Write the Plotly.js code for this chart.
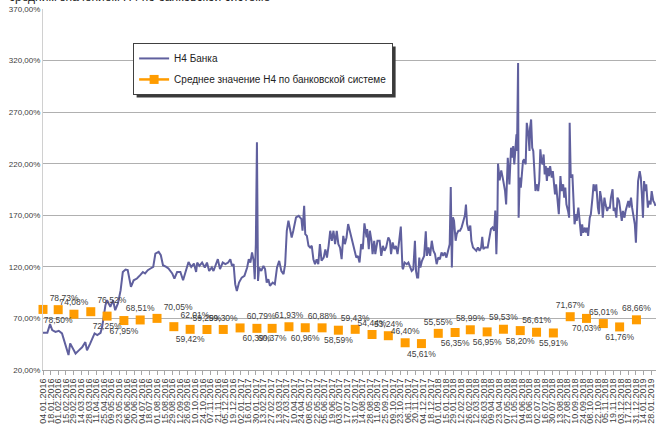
<!DOCTYPE html>
<html>
<head>
<meta charset="utf-8">
<script src="https://cdn.plot.ly/plotly-3.0.1.min.js"></script>
<style>html,body{margin:0;padding:0;background:#fff;}#chart{width:668px;height:427px;}</style>
</head>
<body>
<div id="chart"></div>
<script>
// ---- Data ----
const bankName = 'Н4 Банка';
const avgName = 'Среднее значение Н4 по банковской системе';
const titleText = 'средним значением Н4 по банковской системе';

const bankDates = [
'2016-01-04','2016-01-12','2016-01-17','2016-01-21','2016-01-27','2016-02-02','2016-02-08','2016-02-14','2016-02-20','2016-02-23',
'2016-02-28','2016-03-04','2016-03-10','2016-03-16','2016-03-22','2016-03-25','2016-03-31','2016-04-04','2016-04-08','2016-04-13',
'2016-04-19','2016-04-22','2016-04-28','2016-05-01','2016-05-07','2016-05-12','2016-05-16','2016-05-21','2016-05-26','2016-05-30',
'2016-06-04','2016-06-08','2016-06-12','2016-06-14','2016-06-19','2016-06-25','2016-07-01','2016-07-06','2016-07-10','2016-07-15',
'2016-07-20','2016-07-25','2016-07-29','2016-08-04','2016-08-08','2016-08-12','2016-08-18','2016-08-22','2016-08-29','2016-09-02',
'2016-09-07','2016-09-13','2016-09-18','2016-09-22','2016-09-28','2016-10-03','2016-10-08','2016-10-12','2016-10-14','2016-10-18',
'2016-10-23','2016-10-28','2016-11-01','2016-11-05','2016-11-10','2016-11-13','2016-11-17','2016-11-21','2016-11-25','2016-11-30',
'2016-12-05','2016-12-10','2016-12-14','2016-12-17','2016-12-20','2016-12-23','2016-12-26','2016-12-30','2017-01-04','2017-01-09',
'2017-01-14','2017-01-17','2017-01-20','2017-01-23','2017-01-26','2017-01-28','2017-01-30','2017-02-01','2017-02-03','2017-02-05',
'2017-02-09','2017-02-13','2017-02-16','2017-02-19','2017-02-22','2017-02-25','2017-03-02','2017-03-06','2017-03-10','2017-03-14',
'2017-03-18','2017-03-22','2017-03-25','2017-03-28','2017-03-31','2017-04-03','2017-04-06','2017-04-09','2017-04-14','2017-04-19',
'2017-04-24','2017-04-26','2017-04-29','2017-05-01','2017-05-04','2017-05-07','2017-05-10','2017-05-13','2017-05-16','2017-05-19',
'2017-05-22','2017-05-25','2017-05-28','2017-05-31','2017-06-04','2017-06-07','2017-06-10','2017-06-13','2017-06-16','2017-06-19',
'2017-06-22','2017-06-25','2017-06-28','2017-07-01','2017-07-04','2017-07-07','2017-07-10','2017-07-13','2017-07-16','2017-07-19',
'2017-07-22','2017-07-25','2017-07-28','2017-07-31','2017-08-03','2017-08-06','2017-08-09','2017-08-12','2017-08-15','2017-08-18',
'2017-08-22','2017-08-23','2017-08-26','2017-08-28','2017-08-31','2017-09-02','2017-09-05','2017-09-07','2017-09-11','2017-09-15',
'2017-09-18','2017-09-21','2017-09-24','2017-09-27','2017-10-01','2017-10-04','2017-10-06','2017-10-09','2017-10-12','2017-10-15',
'2017-10-18','2017-10-21','2017-10-24','2017-10-27','2017-10-28','2017-10-31','2017-11-04','2017-11-07','2017-11-10','2017-11-13',
'2017-11-16','2017-11-19','2017-11-21','2017-11-23','2017-11-25','2017-11-27','2017-11-29','2017-12-02','2017-12-06','2017-12-09',
'2017-12-11','2017-12-14','2017-12-17','2017-12-20','2017-12-23','2017-12-26','2017-12-29','2018-01-01','2018-01-04','2018-01-07',
'2018-01-10','2018-01-13','2018-01-16','2018-01-19','2018-01-22','2018-01-24','2018-01-26','2018-01-28','2018-01-30','2018-02-02',
'2018-02-04','2018-02-07','2018-02-10','2018-02-13','2018-02-16','2018-02-19','2018-02-21','2018-02-23','2018-02-26','2018-03-01',
'2018-03-03','2018-03-06','2018-03-09','2018-03-12','2018-03-15','2018-03-18','2018-03-21','2018-03-23','2018-03-25','2018-03-28',
'2018-04-02','2018-04-04','2018-04-08','2018-04-11','2018-04-14','2018-04-16','2018-04-18','2018-04-20','2018-04-21','2018-04-24',
'2018-04-27','2018-04-30','2018-05-04','2018-05-06','2018-05-09','2018-05-12','2018-05-15','2018-05-17','2018-05-19','2018-05-21',
'2018-05-23','2018-05-25','2018-05-26','2018-05-28','2018-05-29','2018-05-31','2018-06-02','2018-06-04','2018-06-06','2018-06-08',
'2018-06-11','2018-06-13','2018-06-16','2018-06-18','2018-06-19','2018-06-21','2018-06-23','2018-06-25','2018-06-27','2018-06-29',
'2018-07-02','2018-07-04','2018-07-06','2018-07-08','2018-07-10','2018-07-12','2018-07-14','2018-07-16','2018-07-18','2018-07-20',
'2018-07-22','2018-07-24','2018-07-26','2018-07-29','2018-07-31','2018-08-03','2018-08-04','2018-08-06','2018-08-09','2018-08-11',
'2018-08-14','2018-08-16','2018-08-19','2018-08-21','2018-08-23','2018-08-25','2018-08-28','2018-08-30','2018-08-31','2018-09-02',
'2018-09-05','2018-09-07','2018-09-09','2018-09-12','2018-09-13','2018-09-16','2018-09-18','2018-09-21','2018-09-23','2018-09-25',
'2018-09-28','2018-09-30','2018-10-02','2018-10-04','2018-10-07','2018-10-09','2018-10-12','2018-10-14','2018-10-17','2018-10-19',
'2018-10-22','2018-10-24','2018-10-26','2018-10-29','2018-10-31','2018-11-03','2018-11-05','2018-11-08','2018-11-10','2018-11-13',
'2018-11-15','2018-11-18','2018-11-20','2018-11-22','2018-11-25','2018-11-27','2018-11-30','2018-12-02','2018-12-05','2018-12-07',
'2018-12-10','2018-12-12','2018-12-15','2018-12-17','2018-12-19','2018-12-22','2018-12-24','2018-12-27','2018-12-29','2018-12-31',
'2019-01-02','2019-01-04','2019-01-07','2019-01-09','2019-01-11','2019-01-13','2019-01-15','2019-01-17','2019-01-19','2019-01-22',
'2019-01-24','2019-01-27','2019-01-29','2019-02-01','2019-02-03','2019-02-05'
];
const bankValues = [
56,56,64.5,58.7,57,58,55.5,45.8,34.5,45.8,
41,36,39,42,47,39,45.8,50.6,55.5,53.8,
56,61.9,82.9,87.7,81.2,87.7,78,84.5,97.4,115,
117.4,116.8,107,100.6,107,108.7,112,115,113.6,116.8,
118.4,120,132.9,134.5,131.3,121.6,120,118.4,113.6,108.7,
115,115,107,113.6,124.8,120,123.2,115,124.2,121,
124.2,119.4,124.2,116,119.4,116,122.6,127.4,117.8,124.2,
122.6,124.2,127.4,121,122.6,103.2,96.7,104.8,109.6,111.3,
119.4,127.4,124.2,134,125.8,108,142,240.7,106.4,119.4,
116,121,117.8,104.8,108,101.6,104.8,103.2,119.4,125.8,
116,112.9,122.6,155,164.7,155,148.5,155,167.9,169.5,
166.3,155,179.2,151.7,150,140.4,138.8,140.4,127.4,122.6,
127.4,122.6,142,126,129,137,129,140.4,155,145.3,
155,142,155,142,138.8,127.4,150,142,148.5,161.5,
155,148.6,142,135.6,129,130.6,124.2,142,137.2,162.2,
148.6,156.7,137.2,155,145.3,132.3,145.3,132.3,145.3,145.3,
130.6,140.4,135.6,138.8,148.6,145.3,132.3,143.7,137.2,140.4,
132.3,145.3,159,119.4,117.7,124.2,122.6,124.2,120.9,116,
117.7,145.3,116,109.6,109.6,129,119.4,125.8,130.6,154.4,
130.6,138.8,130.6,145.3,135.6,132.3,122.6,129,127.4,133.9,
130.6,133.9,129,137.2,142,197.3,119.4,168,164.8,145.3,
151.8,155,155,158.3,164.8,169.7,180.4,161.6,155,160,
145.3,138.8,137.2,135.6,138.8,135.6,138.8,149.2,137.2,138.8,
138.8,145.3,156.7,158.3,155,174.5,132.3,171.3,220,203.8,
213.5,205.5,193.5,180.6,225.8,200,235.5,225.8,237,219.4,
232.3,248.4,232.3,317.7,167.7,206.5,196.8,212.9,222.6,224.2,
219.4,259.7,248.4,232.3,254.8,262.9,235.5,232.3,216,193.5,
200,193.5,203.2,233.9,222.6,219.4,229,209.7,217.7,203.2,
216,208,217.7,206.5,212.9,196.8,190.3,200,180.6,171,
208,193.5,200,187.1,196.8,180.6,174.2,167.7,259.7,206.5,
209.7,174.2,161.3,171,164.5,177.4,164.5,150,161.3,153.2,
158,153.2,158,150,167.7,171,187.1,200,193.5,200,
177.4,171,193.5,183.9,167.7,187.1,180.6,174.2,177.4,177.4,
187.1,195.2,174.2,177.4,167.7,187.1,183.9,177.4,164.5,174.2,
167.7,174.2,180.6,183.9,177.4,187.1,177.4,164.5,161.3,143.5,
180.6,203.2,212.9,206.5,190.3,167.7,203.2,193.5,200,177.4,
183.9,180.6,193.5,183.9,182.3,179
];

const avgDates = [
'2016-01-04','2016-02-01','2016-03-01','2016-04-01','2016-05-01','2016-06-01','2016-07-01','2016-08-01','2016-09-01','2016-10-01',
'2016-11-01','2016-12-01','2017-01-01','2017-02-01','2017-03-01','2017-04-01','2017-05-01','2017-06-01','2017-07-01','2017-08-01',
'2017-09-01','2017-10-01','2017-11-01','2017-12-01','2018-01-01','2018-02-01','2018-03-01','2018-04-01','2018-05-01','2018-06-01',
'2018-07-01','2018-08-01','2018-09-01','2018-10-01','2018-11-01','2018-12-01','2019-01-01'
];
const avgValues = [
78.73,78.50,74.08,76.52,72.25,67.95,68.51,70.05,62.01,59.42,
59.29,59.30,60.79,60.39,60.37,61.93,60.96,60.88,58.59,59.43,
54.44,53.24,46.40,45.61,55.55,56.35,58.99,56.95,59.53,58.20,
56.61,55.91,71.67,70.03,65.01,61.76,68.66
];
const avgLabelPos = [
'top right','bottom center','top center','top right','bottom center','bottom center','top center','top right','top right','bottom center',
'top center','top center','top right','bottom center','bottom center','top center','bottom center','top center','bottom center','top center',
'top center','top center','top center','bottom center','top center','bottom center','top center','bottom center','top center','bottom center',
'top center','bottom center','top center','bottom center','top center','bottom center','top center'
];

const yTickMin = 20, yTickMax = 370, yTickStep = 50;
const xStart = '2016-01-04', xEnd = '2019-02-06';

// ---- Build average series with gaps (isolated markers, line in legend) ----
const ax = [], ay = [], at = [], ap = [];
avgDates.forEach((d, i) => {
  ax.push(d); ay.push(avgValues[i]);
  at.push(avgValues[i].toFixed(2).replace('.', ',') + '%');
  ap.push(avgLabelPos[i]);
  ax.push(d); ay.push(null); at.push(''); ap.push('top center');
});

const FONT = '"Liberation Sans", Arial, sans-serif';
const TXT = '#404040';

const traces = [
  {
    x: bankDates, y: bankValues, name: bankName, type: 'scatter', mode: 'lines',
    line: {color: '#60609E', width: 2}, legendgroup: 'a'
  },
  {
    x: ax, y: ay, name: avgName, type: 'scatter', mode: 'lines+markers+text',
    connectgaps: false,
    line: {color: '#FF9C00', width: 2.5},
    marker: {symbol: 'square', size: 9, color: '#FF9C00', line: {width: 0}},
    text: at, textposition: ap, textfont: {size: 8.5, color: TXT, family: FONT},
    cliponaxis: false, legendgroup: 'b'
  }
];

const layout = {
  width: 668, height: 427,
  margin: {l: 43, r: 12, t: 9, b: 57},
  paper_bgcolor: '#fff', plot_bgcolor: '#fff',
  font: {family: FONT, color: TXT, size: 9},
  separators: ', ',
  showlegend: true,
  legend: {
    x: 0.147, y: 0.906, xanchor: 'left', yanchor: 'top',
    bgcolor: '#fff', bordercolor: '#404040', borderwidth: 1,
    font: {size: 10, color: '#222', family: FONT},
    tracegroupgap: 2, itemwidth: 30, traceorder: 'grouped'
  },
  xaxis: {
    type: 'date', range: [xStart, xEnd],
    tickmode: 'linear', tick0: xStart, dtick: 14 * 86400000,
    tickformat: '%d.%m.%Y', tickangle: -90,
    tickfont: {size: 9, color: TXT},
    ticks: 'outside', ticklen: 4, tickcolor: '#A6A6A6', tickwidth: 1,
    showgrid: false, showline: true, linecolor: '#A6A6A6', linewidth: 1,
    zeroline: false, fixedrange: true
  },
  yaxis: {
    range: [yTickMin, yTickMax], tickmode: 'linear', tick0: yTickMin, dtick: yTickStep,
    tickformat: '.2f', ticksuffix: '%',
    tickfont: {size: 8, color: TXT},
    showgrid: true, gridcolor: '#B0B0B0', gridwidth: 1,
    showline: true, linecolor: '#D0D0D0', linewidth: 1,
    zeroline: false, ticks: '', fixedrange: true
  },
  annotations: [{
    text: titleText, xref: 'paper', yref: 'paper',
    x: -0.059, y: 1.0085, xanchor: 'left', yanchor: 'bottom',
    showarrow: false, font: {size: 12, color: '#222', family: FONT}
  }]
};

const gd = document.getElementById('chart');
Plotly.newPlot(gd, traces, layout, {displayModeBar: false, staticPlot: true}).then(() => {
  // legend drop shadow, sized from the rendered legend box
  const bg = gd.querySelector('.legend .bg');
  if (!bg) return;
  const r = bg.getBoundingClientRect();
  const c = gd.getBoundingClientRect();
  const fl = gd._fullLayout, sz = fl._size;
  const toX = px => (px - c.left - sz.l) / sz.w;
  const toY = py => 1 - (py - c.top - sz.t) / sz.h;
  const off = 3;
  return Plotly.relayout(gd, {shapes: [{
    type: 'rect', xref: 'paper', yref: 'paper', layer: 'above',
    x0: toX(r.left + off), x1: toX(r.right + off),
    y0: toY(r.bottom + off), y1: toY(r.top + off),
    fillcolor: '#3a3a3a', line: {width: 0}
  }]});
});
</script>
</body>
</html>
